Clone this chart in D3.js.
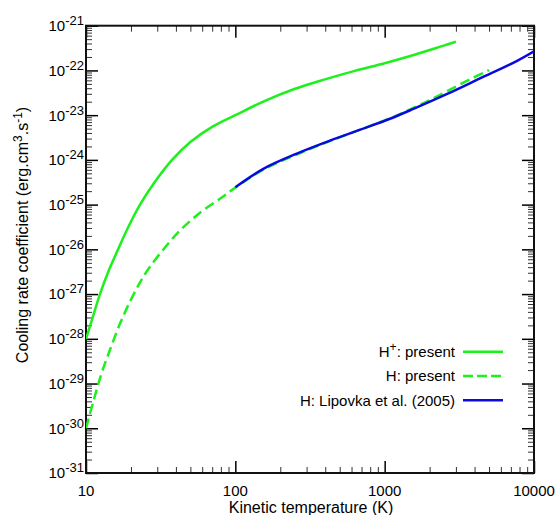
<!DOCTYPE html>
<html><head><meta charset="utf-8">
<script src="https://cdn.jsdelivr.net/npm/d3@7"></script>
<style>
body{margin:0;background:#fff;}
text{font-family:"Liberation Sans",Arial,Helvetica,sans-serif;fill:#000;}
</style></head>
<body><svg id="c" width="557" height="515"></svg>
<script>
// ---- data ----
const hPlusT   = [10, 11.14, 12.4, 14.1, 16.4, 19.2, 23, 28.8, 37.7, 50, 70.8, 100, 158, 251, 398, 631, 1000, 1585, 2512, 3000];
const hPlusV   = [1.0e-28, 3.16e-28, 1.0e-27, 3.16e-27, 1.0e-26, 3.16e-26, 1.0e-25, 3.16e-25, 1.0e-24, 2.51e-24, 5.62e-24, 1.0e-23, 2.09e-23, 3.89e-23, 6.31e-23, 9.77e-23, 1.45e-22, 2.24e-22, 3.63e-22, 4.37e-22];
const hT       = [10, 11.2, 12.7, 14.5, 16.9, 19.7, 23, 26.8, 33.8, 42.6, 58, 78.9, 100, 154, 258, 430, 719, 1086, 1556, 2013, 2600, 3725, 5000];
const hV       = [1.0e-30, 3.98e-30, 1.68e-29, 5.75e-29, 2.19e-28, 6.76e-28, 1.82e-27, 4.07e-27, 1.10e-26, 2.63e-26, 6.61e-26, 1.35e-25, 2.40e-25, 6.03e-25, 1.32e-24, 2.63e-24, 5.01e-24, 8.51e-24, 1.45e-23, 2.19e-23, 3.39e-23, 6.31e-23, 1.02e-22];
const lipT     = [100, 154, 258, 430, 719, 1086, 1556, 2600, 4345, 7260, 10000];
const lipV     = [2.45e-25, 6.31e-25, 1.38e-24, 2.69e-24, 5.01e-24, 8.32e-24, 1.38e-23, 2.95e-23, 6.61e-23, 1.48e-22, 2.69e-22];
const xTickVals = [10, 100, 1000, 10000];
const xTickLabels = ["10", "100", "1000", "10000"];
const yExponents = [-21, -22, -23, -24, -25, -26, -27, -28, -29, -30, -31];
const legendLabels = [["H", "+", ": present"], ["H: present", "", ""], ["H: Lipovka et al. (2005)", "", ""]];

// ---- layout ----
const L = 86, R = 534, T = 25.7, B = 473;
const svg = d3.select("#c");
const x = d3.scaleLog().domain([10, 10000]).range([L, R]);
const y = d3.scaleLog().domain([1e-31, 1e-21]).range([B, T]);
const GREEN = "#1ef01e", BLUE = "#0a0ae0";

const xMinor = [], yMinor = [];
for (let e = 1; e < 4; e++) for (let k = 2; k <= 9; k++) xMinor.push(k * Math.pow(10, e));
for (let e = -31; e < -21; e++) for (let k = 2; k <= 9; k++) yMinor.push(k * Math.pow(10, e));
const yMajor = yExponents.map(e => Math.pow(10, e));

function drawAxis(gen, vals, size, tx, ty, sw, col) {
  const g = svg.append("g").attr("transform", `translate(${tx},${ty})`)
    .call(gen.tickValues(vals).tickSize(size).tickFormat(() => ""));
  g.select(".domain").remove();
  g.selectAll("line").attr("stroke", col).attr("stroke-width", sw);
}
drawAxis(d3.axisLeft(y), yMinor, -6, L, 0, 1, "#333");
drawAxis(d3.axisLeft(y), yMajor, -12, L, 0, 1.5, "#000");
drawAxis(d3.axisRight(y), yMinor, -6, R, 0, 1, "#333");
drawAxis(d3.axisRight(y), yMajor, -12, R, 0, 1.5, "#000");
drawAxis(d3.axisBottom(x), xMinor, -6, 0, B, 1, "#333");
drawAxis(d3.axisBottom(x), xTickVals, -12, 0, B, 1.5, "#000");
drawAxis(d3.axisTop(x), xMinor, -6, 0, T, 1, "#333");
drawAxis(d3.axisTop(x), xTickVals, -12, 0, T, 1.5, "#000");

svg.append("rect").attr("x", L).attr("y", T).attr("width", R - L).attr("height", B - T)
  .attr("fill", "none").attr("stroke", "#111").attr("stroke-width", 2);

// tick labels
xTickVals.forEach((v, i) => {
  svg.append("text").attr("x", x(v)).attr("y", 495.5).attr("text-anchor", "middle")
    .attr("font-size", 15).text(xTickLabels[i]);
});
yExponents.forEach(e => {
  const t = svg.append("text").attr("x", 84).attr("y", y(Math.pow(10, e)) + 5.4)
    .attr("text-anchor", "end").attr("font-size", 15);
  t.append("tspan").text("10");
  t.append("tspan").attr("dy", -6).attr("font-size", 13).text(String(e));
});

// axis titles
svg.append("text").attr("x", 311).attr("y", 512.5).attr("text-anchor", "middle")
  .attr("font-size", 16).text("Kinetic temperature (K)");
const yt = svg.append("text").attr("transform", "translate(28,235) rotate(-90)")
  .attr("text-anchor", "middle").attr("font-size", 16);
yt.append("tspan").text("Cooling rate coefficient (erg.cm");
yt.append("tspan").attr("dy", -6).attr("font-size", 12).text("3");
yt.append("tspan").attr("dy", 6).text(".s");
yt.append("tspan").attr("dy", -6).attr("font-size", 12).text("-1");
yt.append("tspan").attr("dy", 6).text(")");

// curves
const line = d3.line().x(d => x(d[0])).y(d => y(d[1])).curve(d3.curveCatmullRom.alpha(0.5));
svg.append("clipPath").attr("id", "pc").append("rect")
  .attr("x", L).attr("y", T).attr("width", R - L).attr("height", B - T);
const series = [
  {t: hPlusT, v: hPlusV, c: GREEN, dash: null},
  {t: hT, v: hV, c: GREEN, dash: "10,5"},
  {t: lipT, v: lipV, c: BLUE, dash: null}
];
series.forEach(s => {
  svg.append("path").attr("d", line(s.t.map((t, i) => [t, s.v[i]])))
    .attr("fill", "none").attr("stroke", s.c).attr("stroke-width", 2.5)
    .attr("stroke-dasharray", s.dash).attr("clip-path", "url(#pc)");
});

// legend
const rowsY = [351.7, 376, 400.3];
series.forEach((s, i) => {
  const t = svg.append("text").attr("x", 455).attr("y", rowsY[i] + 5.3)
    .attr("text-anchor", "end").attr("font-size", 15);
  const lab = legendLabels[i];
  t.append("tspan").text(lab[0]);
  if (lab[1]) {
    t.append("tspan").attr("dy", -6).attr("font-size", 12).text(lab[1]);
    t.append("tspan").attr("dy", 6).text(lab[2]);
  }
  svg.append("line").attr("x1", 463).attr("x2", 503).attr("y1", rowsY[i]).attr("y2", rowsY[i])
    .attr("stroke", s.c).attr("stroke-width", 2.5).attr("stroke-dasharray", s.dash ? "10,4" : null);
});
</script></body></html>
